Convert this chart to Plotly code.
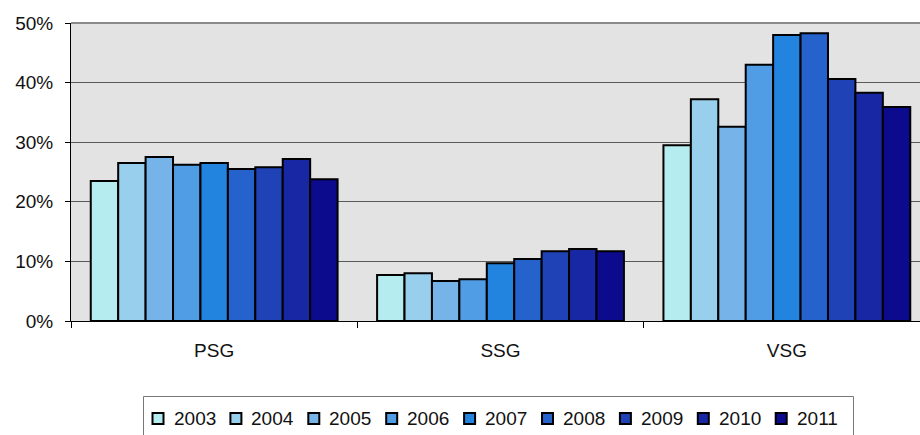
import plotly.graph_objects as go

# Share of each group by year
categories = ["PSG", "SSG", "VSG"]
years = ["2003", "2004", "2005", "2006", "2007", "2008", "2009", "2010", "2011"]

values_2003 = [0.235, 0.077, 0.295]
values_2004 = [0.265, 0.080, 0.372]
values_2005 = [0.275, 0.067, 0.326]
values_2006 = [0.262, 0.070, 0.430]
values_2007 = [0.265, 0.097, 0.480]
values_2008 = [0.255, 0.104, 0.483]
values_2009 = [0.258, 0.117, 0.406]
values_2010 = [0.272, 0.121, 0.383]
values_2011 = [0.238, 0.117, 0.359]

series = [values_2003, values_2004, values_2005, values_2006, values_2007,
          values_2008, values_2009, values_2010, values_2011]

colors = ["#b5ecef", "#98cfed", "#76b3e8", "#519de5", "#2284de",
          "#2562cb", "#1f43b6", "#1828a5", "#0c0b8e"]

y_ticks = [0, 0.1, 0.2, 0.3, 0.4, 0.5]

FONT = "Liberation Sans, Arial, Helvetica, sans-serif"
FSIZE = 19

# plot area in pixels; the legend below it is laid out in paper units
L, T, PW, PH = 71, 23, 849, 298


def px_x(x):
    return (x - L) / PW


def px_y(y):
    return (T + PH - y) / PH


fig = go.Figure()
for year, vals, col in zip(years, series, colors):
    fig.add_trace(go.Bar(
        x=categories, y=vals, name=year,
        marker=dict(color=col, line=dict(color="#000000", width=2)),
    ))

shapes = [
    # heavier top edge of the plot frame
    dict(type="line", xref="paper", yref="paper",
         x0=0, x1=1, y0=1, y1=1,
         line=dict(color="#8a8a8a", width=2)),
    # legend frame
    dict(type="rect", xref="paper", yref="paper",
         x0=px_x(143.5), x1=px_x(853.5), y0=px_y(396.5), y1=px_y(450),
         line=dict(color="#777777", width=1), fillcolor="rgba(0,0,0,0)"),
]
annotations = []

# legend row: a swatch and the year for each series
first_left, step = 152.5, 77.9
for i, (year, col) in enumerate(zip(years, colors)):
    left = first_left + i * step
    shapes.append(dict(
        type="rect", xref="paper", yref="paper",
        x0=px_x(left), x1=px_x(left + 11),
        y0=px_y(413), y1=px_y(424),
        line=dict(color="#000000", width=2), fillcolor=col,
    ))
    annotations.append(dict(
        xref="paper", yref="paper",
        x=px_x(left + 19), y=px_y(418),
        xanchor="left", yanchor="middle",
        text=year, showarrow=False,
        font=dict(family=FONT, size=FSIZE, color="#111111"),
    ))

fig.update_layout(
    width=920, height=435,
    margin=dict(l=L, r=920 - L - PW, t=T, b=435 - T - PH),
    paper_bgcolor="white",
    plot_bgcolor="#e3e3e3",
    barmode="group",
    bargap=0.138,
    bargroupgap=0,
    font=dict(family=FONT, size=FSIZE, color="#111111"),
    showlegend=False,
    xaxis=dict(
        type="category",
        range=[-0.5, 2.465],
        showgrid=False,
        showline=True, linecolor="#000000", linewidth=1,
        ticks="outside", ticklen=6, tickcolor="#000000", tickwidth=1,
        tickson="boundaries",
        ticklabelstandoff=12,
        tickfont=dict(family=FONT, size=FSIZE, color="#111111"),
    ),
    yaxis=dict(
        range=[0, 0.5],
        tickvals=y_ticks,
        tickformat=".0%",
        showgrid=True, gridcolor="#5a5a5a", gridwidth=1,
        showline=True, linecolor="#000000", linewidth=1,
        ticks="outside", ticklen=5, tickcolor="#000000", tickwidth=1,
        ticklabelstandoff=8,
        zeroline=False,
        tickfont=dict(family=FONT, size=FSIZE, color="#111111"),
    ),
    shapes=shapes,
    annotations=annotations,
)

fig.write_html("out.html")
